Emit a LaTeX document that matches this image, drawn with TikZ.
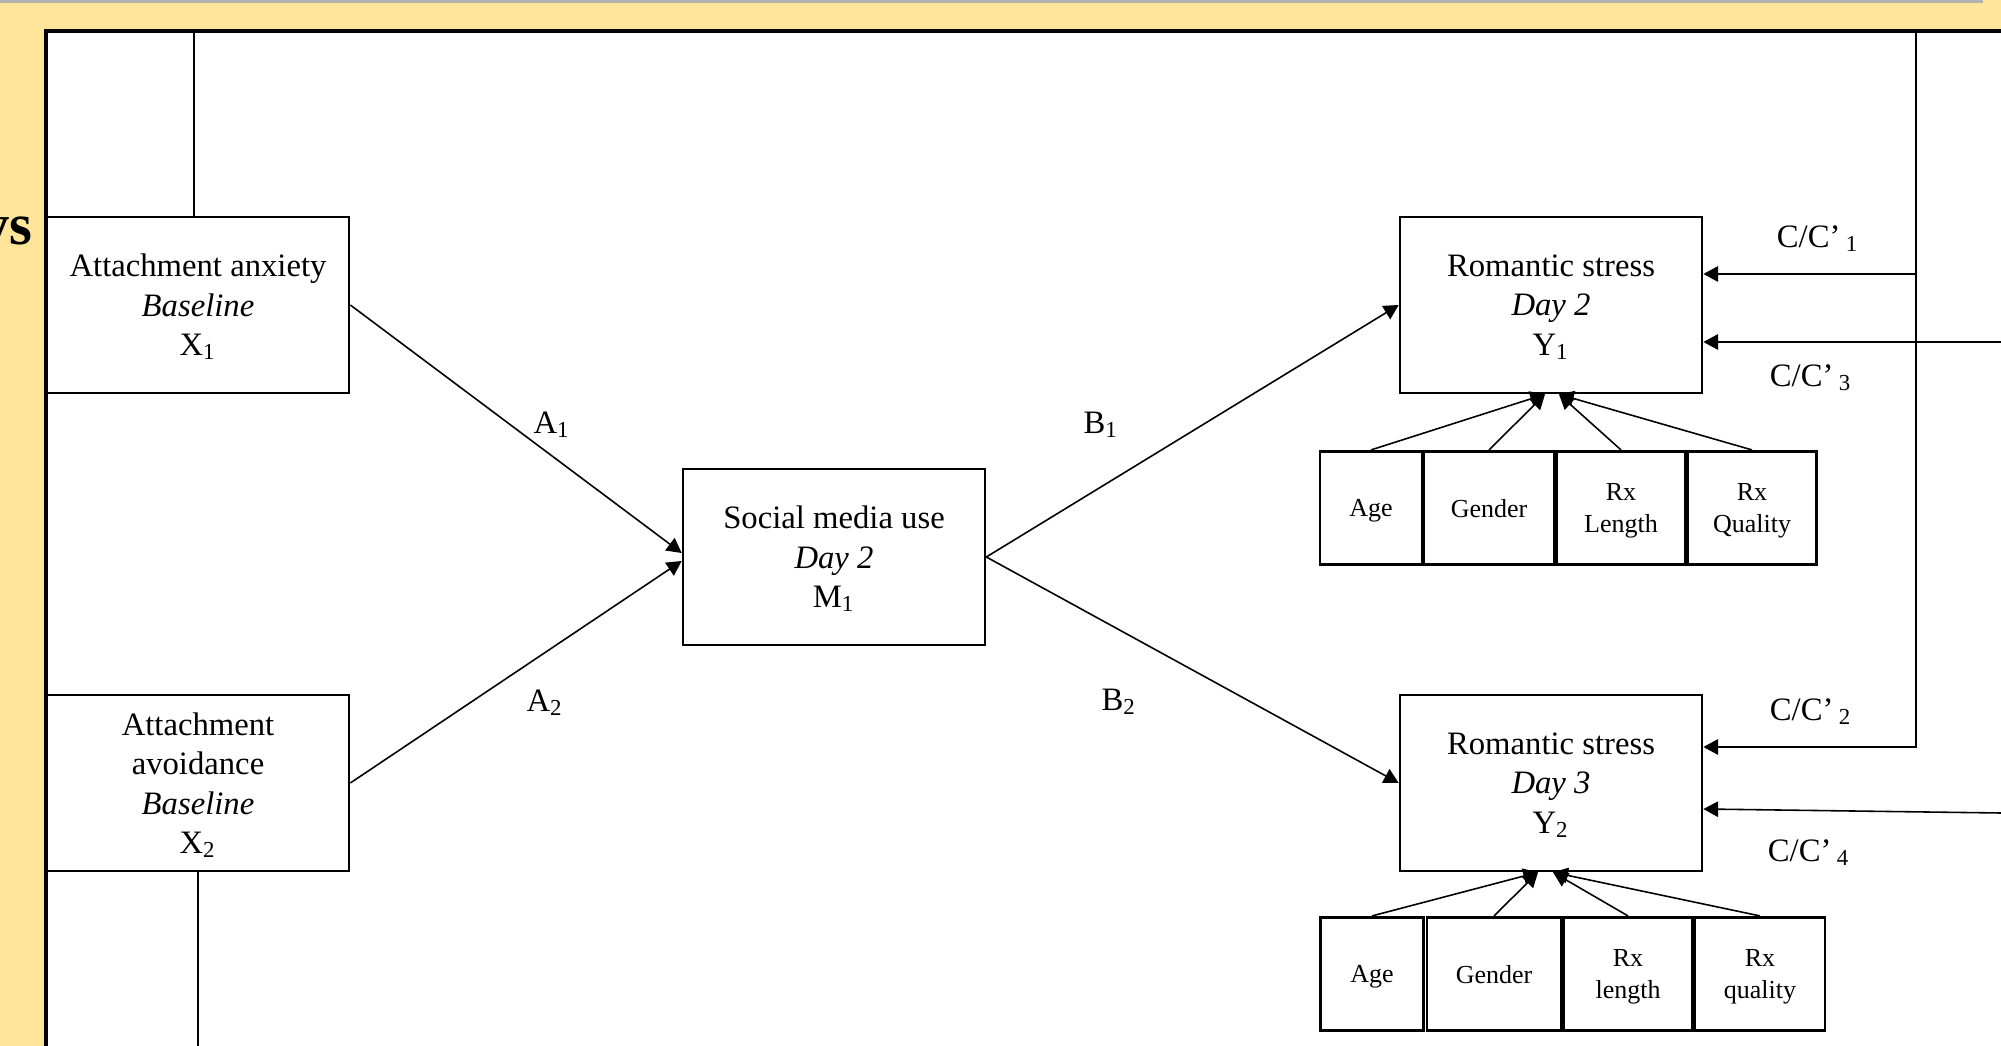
\documentclass[tikz,border=0pt]{standalone}
\usepackage{fontspec}
\setmainfont{Liberation Serif}
\usetikzlibrary{arrows.meta,positioning}
\definecolor{slideyellow}{RGB}{255,229,153}

\begin{document}
\begin{tikzpicture}[>={Triangle[length=4.2pt,width=4.4pt]},node distance=3cm,on grid,
  var/.style={draw,line width=0.75pt,minimum width=3.02cm,minimum height=1.76cm,inner sep=0pt,align=center,font=\fontsize{9.3}{11.2}\selectfont,text depth=-0.8pt},
  cov/.style={draw,line width=0.75pt,minimum height=1.135cm,inner sep=0pt,align=center,font=\fontsize{7.4}{9}\selectfont,text depth=-0.56pt},
  lab/.style={font=\fontsize{9.3}{11.2}\selectfont},
  conn/.style={line width=0.45pt}]
   % slide frame
   \useasboundingbox (0,0) rectangle (20.01,-10.46);
   \fill[slideyellow] (0,0) rectangle (20.01,-10.46);
   \fill[black!30] (0,0) rectangle (19.83,-0.035);
   \fill[white] (0.46,-0.31) rectangle (20.01,-10.46);
   \draw[line width=0.9pt] (0.46,-10.46) |- (20.01,-0.31);
   \begin{scope}
     \clip (0,0) rectangle (0.46,-10.46);
     \node[anchor=base east,inner sep=0pt,font=\fontsize{16.7}{20}\selectfont\bfseries] (title) at (0.33,-2.45) {ys};
   \end{scope}
   % predictors, mediator, outcomes
   \node[var] (x_1) at (1.98,-3.05) {Attachment anxiety\\\textit{Baseline}\\X\textsubscript{1}};
   \node[var] (x_2) [below=4.78cm of x_1] {Attachment\\avoidance\\\textit{Baseline}\\X\textsubscript{2}};
   \node[var] (m_1) [below right=2.52cm and 6.36cm of x_1] {Social media use\\\textit{Day 2}\\M\textsubscript{1}};
   \node[var] (y_1) [right=13.53cm of x_1] {Romantic stress\\\textit{Day 2}\\Y\textsubscript{1}};
   \node[var] (y_2) [right=13.53cm of x_2] {Romantic stress\\\textit{Day 3}\\Y\textsubscript{2}};
   % covariates
   \node[cov,minimum width=1.02cm] (age_1) [below left=2.03cm and 1.80cm of y_1] {Age};
   \node[cov,minimum width=1.31cm,text depth=-1.4pt] (gen_1) [right=1.18cm of age_1] {Gender};
   \node[cov,minimum width=1.29cm] (len_1) [right=1.32cm of gen_1] {Rx\\Length};
   \node[cov,minimum width=1.29cm] (qual_1) [right=1.31cm of len_1] {Rx\\Quality};
   \node[cov,minimum width=1.03cm] (age_2) [below left=1.91cm and 1.79cm of y_2] {Age};
   \node[cov,minimum width=1.34cm,text depth=-1.4pt] (gen_2) [right=1.22cm of age_2] {Gender};
   \node[cov,minimum width=1.29cm] (len_2) [right=1.34cm of gen_2] {Rx\\length};
   \node[cov,minimum width=1.30cm] (qual_2) [right=1.32cm of len_2] {Rx\\quality};
   % path labels
   \node[lab] (a_1) at (5.52,-4.25) {A\textsubscript{1}};
   \node[lab] (a_2) at (5.45,-7.03) {A\textsubscript{2}};
   \node[lab] (b_1) at (11.01,-4.25) {B\textsubscript{1}};
   \node[lab] (b_2) at (11.19,-7.02) {B\textsubscript{2}};
   \node[lab] (cc_1) at (18.18,-2.39) {C/C’\,\textsubscript{1}};
   \node[lab] (cc_3) at (18.11,-3.78) {C/C’\,\textsubscript{3}};
   \node[lab] (cc_2) at (18.11,-7.12) {C/C’\,\textsubscript{2}};
   \node[lab] (cc_4) at (18.09,-8.53) {C/C’\,\textsubscript{4}};
   % ends of the direct paths
   \coordinate (top_l) at ([xshift=-0.04cm]x_1.north);
   \coordinate (top_r) at (19.16,-0.31);
   \coordinate (c_1) at ([yshift=0.31cm]y_1.east);
   \coordinate (c_3) at ([yshift=-0.37cm]y_1.east);
   \coordinate (c_2) at ([yshift=0.36cm]y_2.east);
   \coordinate (c_4) at ([yshift=-0.26cm]y_2.east);
   \coordinate (r_3) at (20.01,-3.42);
   \coordinate (r_4) at (20.01,-8.13);
   \coordinate (bot_2) at (x_2.south |- 0,-10.46);
   \path[->,conn]
    (x_1.east) edge ([yshift=0.04cm]m_1.west)
    (x_2.east) edge ([yshift=-0.04cm]m_1.west)
    (m_1.east) edge (y_1.west)
    (m_1.east) edge (y_2.west)
    (age_1.north) edge ([xshift=-0.06cm]y_1.south)
    (gen_1.north) edge ([xshift=-0.06cm]y_1.south)
    (len_1.north) edge ([xshift=0.08cm]y_1.south)
    (qual_1.north) edge ([xshift=0.08cm]y_1.south)
    (age_2.north) edge ([xshift=-0.13cm]y_2.south)
    (gen_2.north) edge ([xshift=-0.13cm]y_2.south)
    (len_2.north) edge ([xshift=0.02cm]y_2.south)
    (qual_2.north) edge ([xshift=0.02cm]y_2.south);
   \draw[->,conn] (top_l) |- (top_r) |- (c_2);
   \draw[->,conn] (top_r |- c_1) -- (c_1);
   \draw[->,conn] (r_3) -- (c_3);
   \draw[->,conn] (r_4) -- (c_4);
   \draw[conn] (x_2.south) -- (bot_2);
\end{tikzpicture}
\end{document}
